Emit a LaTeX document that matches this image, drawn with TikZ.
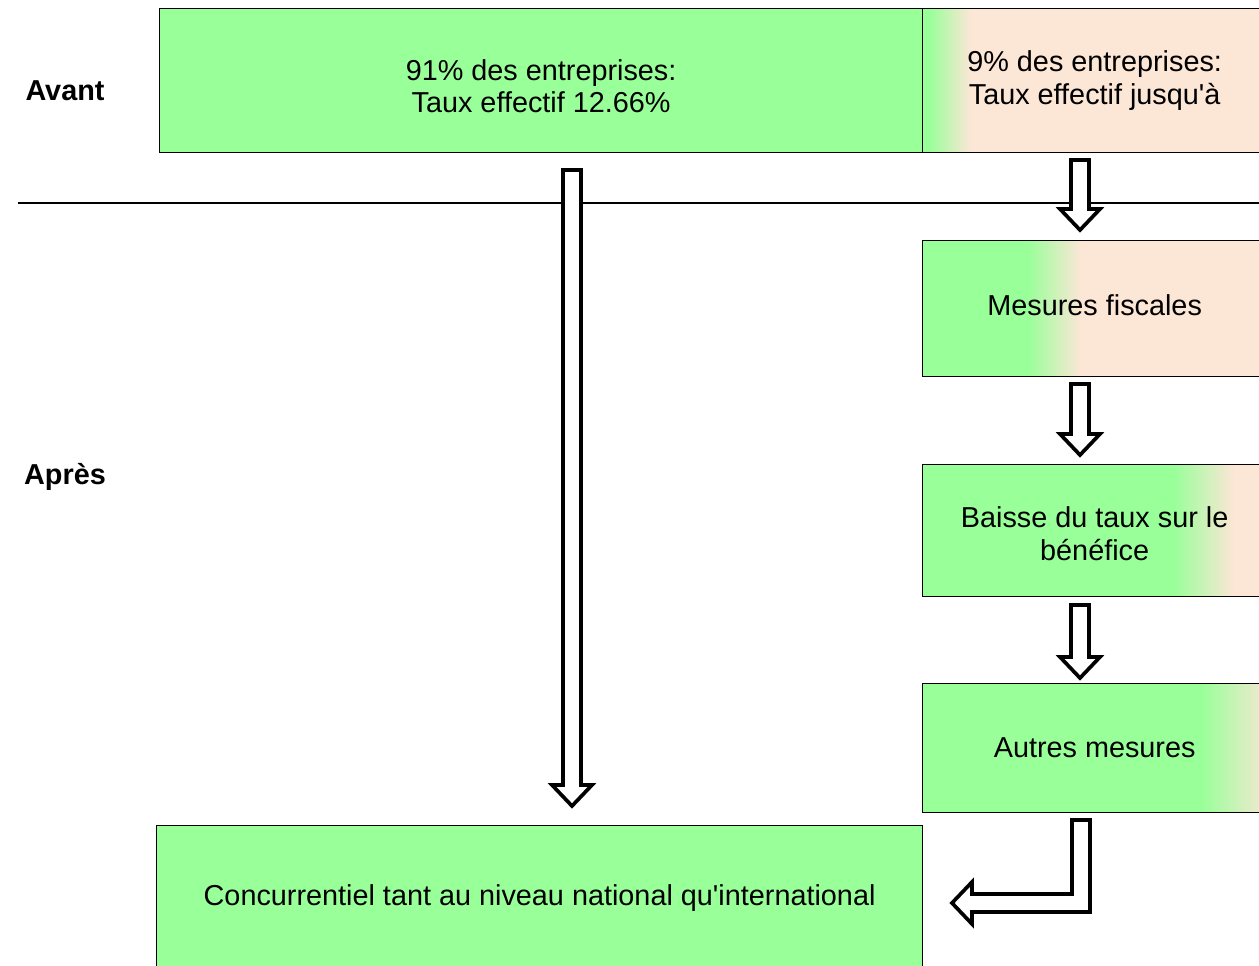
\documentclass[tikz,border=0pt]{standalone}
\usepackage{fontspec}
\setmainfont{Liberation Sans}
\usetikzlibrary{calc}
\definecolor{cg}{RGB}{153,255,153}
\definecolor{cp}{RGB}{252,230,214}
\tikzset{
  box/.style={draw, line width=0.8pt, anchor=north west, inner sep=0pt, align=center,
    font=\fontsize{16.4}{18.7}\selectfont, fill=cg},
  gbox/.style 2 args={box, path picture={
    \fill[cg] (path picture bounding box.south west) rectangle ([xshift=#1*0.02cm]path picture bounding box.north west);
    \shade[left color=cg, right color=cp] ([xshift=#1*0.02cm]path picture bounding box.south west) rectangle ([xshift=#2*0.02cm]path picture bounding box.north west);
    \fill[cp] ([xshift=#2*0.02cm]path picture bounding box.south west) rectangle (path picture bounding box.north east);
  }},
  side/.style={font=\bfseries\fontsize{16.4}{18.7}\selectfont},
  barrow/.style={draw=black, fill=white, line width=2.1pt, line join=miter},
  sepline/.style={line width=1.5pt}
}
\newcommand{\blockdown}[2]{%
  \draw[barrow] ($(#1)+(-9,0)$) -- ($(#1)+(9,0)$) -- ($(#2)+(9,-21)$) -- ($(#2)+(20,-21)$) -- (#2)
    -- ($(#2)+(-20,-21)$) -- ($(#2)+(-9,-21)$) -- cycle;}
\begin{document}
\begin{tikzpicture}[x=0.02cm, y=-0.02cm]
\useasboundingbox (0,0) rectangle (1259,966);
% left labels
\node[side] (avant) at (65,91) {Avant};
\node[side] (apres) at (65,477) {Après};
% separator
\coordinate (l1) at (18,203);
\coordinate (l2) at (1270,203);
\draw[sepline] (l1) -- (l2);
% boxes
\node[box, minimum width=15.26cm, minimum height=2.88cm] (bA) at (159,8) {\rule{0pt}{18.2pt}91\% des entreprises:\\Taux effectif 12.66\%};
\node[gbox={6}{48}, minimum width=6.88cm, minimum height=2.88cm] (bB) at (922,8) {9\% des entreprises:\\Taux effectif jusqu\textquotesingle à};
\node[gbox={105}{158}, minimum width=6.88cm, minimum height=2.72cm] (bC) at (922,240) {Mesures fiscales\rule[-4.4pt]{0pt}{4.4pt}};
\node[gbox={251}{311}, minimum width=6.88cm, minimum height=2.64cm] (bD) at (922,464) {\rule{0pt}{15.4pt}Baisse du taux sur le\\bénéfice};
\node[gbox={278}{350}, minimum width=6.88cm, minimum height=2.58cm] (bE) at (922,683) {Autres mesures};
\node[box, minimum width=15.32cm, minimum height=2.9cm] (bF) at (156,825) {Concurrentiel tant au niveau national qu\textquotesingle international};
% arrow endpoints
\coordinate (a0s) at (572,170);
\coordinate (a0t) at (572,806);
\coordinate (a1s) at (1080,160);
\coordinate (a1t) at (1080,230);
\coordinate (a2s) at (1080,384);
\coordinate (a2t) at (1080,455);
\coordinate (a3s) at (1080,605);
\coordinate (a3t) at (1080,678);
\coordinate (e1) at (1081,820);
\coordinate (e2) at (952,903);
% arrows
\blockdown{a0s}{a0t}
\blockdown{a1s}{a1t}
\blockdown{a2s}{a2t}
\blockdown{a3s}{a3t}
\draw[barrow] ($(e1)+(-9,0)$) -- ($(e1)+(9,0)$) -- ($(e1 |- e2)+(9,9)$) -- ($(e2)+(20,9)$) -- ($(e2)+(20,21)$)
  -- (e2) -- ($(e2)+(20,-21)$) -- ($(e2)+(20,-9)$) -- ($(e1 |- e2)+(-9,-9)$) -- cycle;
\end{tikzpicture}
\end{document}
